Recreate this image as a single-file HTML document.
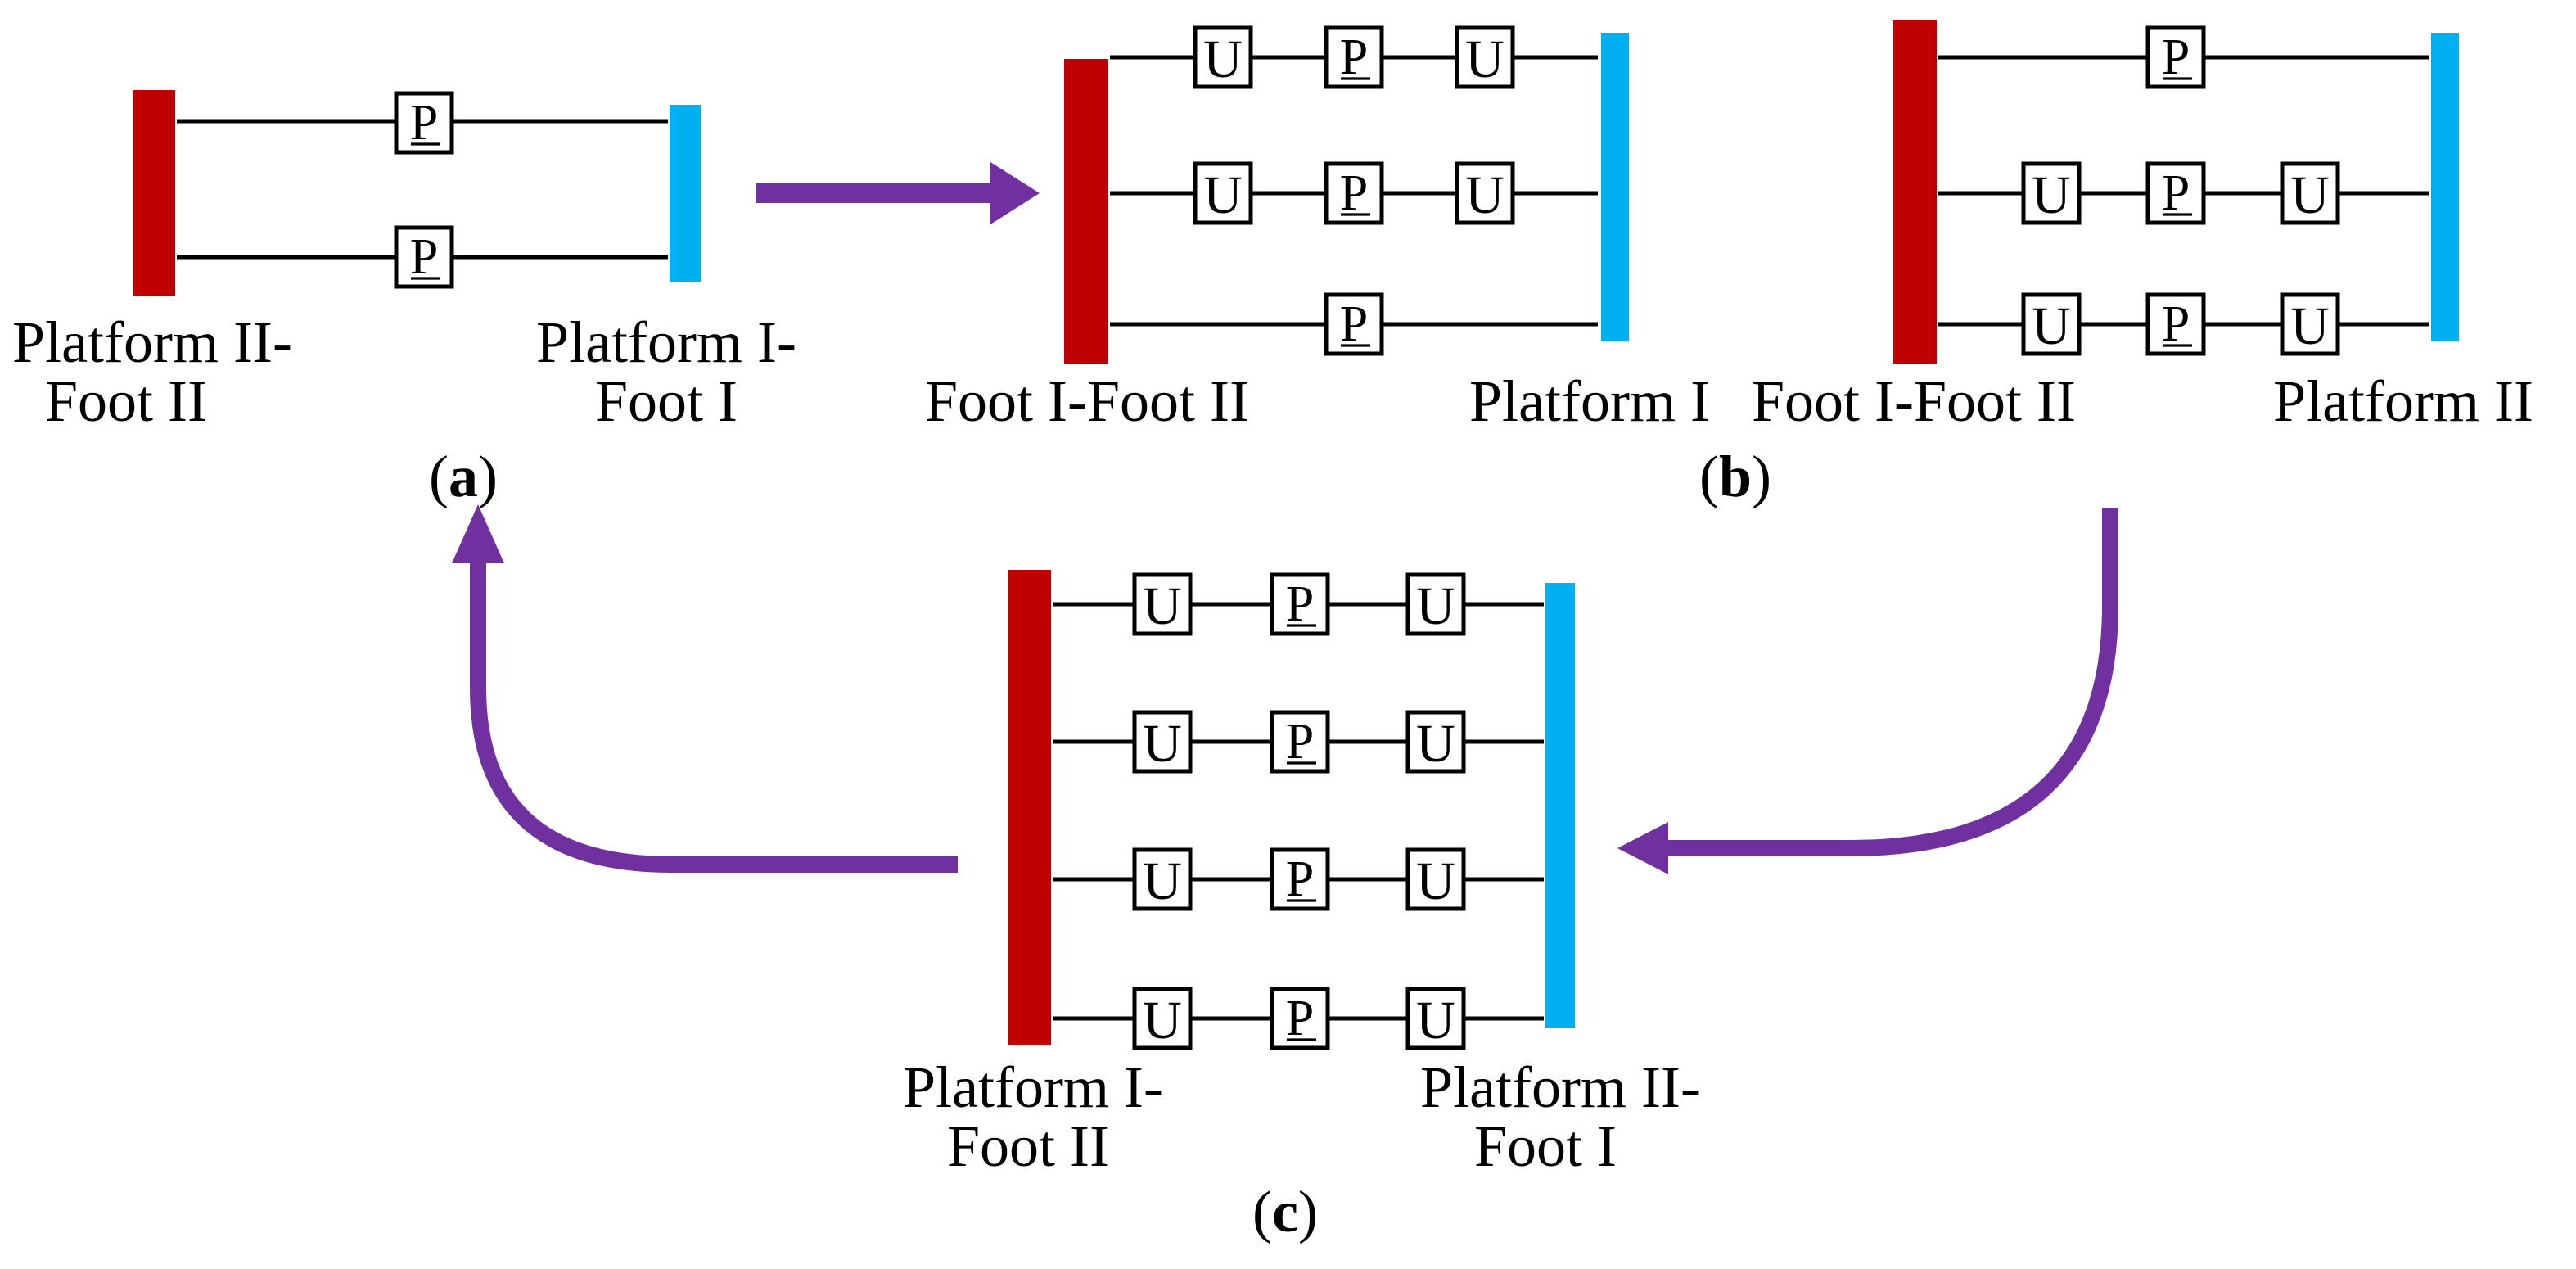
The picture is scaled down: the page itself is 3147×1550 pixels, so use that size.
<!DOCTYPE html>
<html><head><meta charset="utf-8"><style>html,body{margin:0;padding:0;background:#fff}svg{display:block}</style></head>
<body>
<svg xmlns="http://www.w3.org/2000/svg" width="3147" height="1550" viewBox="0 0 1573.5 775" font-family="Liberation Serif, serif">
<defs>
<g id="U"><rect x="-17" y="-18" width="34" height="36" fill="#fff" stroke="#000" stroke-width="2.5"/><text x="0" y="12" font-size="33" text-anchor="middle">U</text></g>
<g id="P"><rect x="-17" y="-18" width="34" height="36" fill="#fff" stroke="#000" stroke-width="2.5"/><text x="0" y="10" font-size="31" text-anchor="middle">P</text><line x1="-8" y1="13" x2="10" y2="13" stroke="#000" stroke-width="1.6"/></g>
</defs>
<g stroke="#000" stroke-width="2.5">
<line x1="108" y1="74" x2="408" y2="74"/><line x1="108" y1="157" x2="408" y2="157"/>
<line x1="678" y1="35" x2="976" y2="35"/><line x1="678" y1="118" x2="976" y2="118"/><line x1="678" y1="198" x2="976" y2="198"/>
<line x1="1184" y1="35" x2="1484" y2="35"/><line x1="1184" y1="118" x2="1484" y2="118"/><line x1="1184" y1="198" x2="1484" y2="198"/>
<line x1="643" y1="369" x2="943" y2="369"/><line x1="643" y1="453" x2="943" y2="453"/><line x1="643" y1="537" x2="943" y2="537"/><line x1="643" y1="622" x2="943" y2="622"/>
</g>
<rect x="81" y="55" width="26" height="126" fill="#C00000"/>
<rect x="409" y="64" width="19" height="108" fill="#00B0F0"/>
<rect x="650" y="36" width="27" height="186" fill="#C00000"/>
<rect x="978" y="20" width="17" height="188" fill="#00B0F0"/>
<rect x="1156" y="12" width="27" height="210" fill="#C00000"/>
<rect x="1485" y="20" width="17" height="188" fill="#00B0F0"/>
<rect x="616" y="348" width="26" height="290" fill="#C00000"/>
<rect x="944" y="356" width="18" height="272" fill="#00B0F0"/>
<use href="#P" x="259" y="75"/><use href="#P" x="259" y="157"/>
<use href="#U" x="747" y="35"/><use href="#P" x="827" y="35"/><use href="#U" x="907" y="35"/>
<use href="#U" x="747" y="118"/><use href="#P" x="827" y="118"/><use href="#U" x="907" y="118"/>
<use href="#P" x="827" y="198"/>
<use href="#P" x="1329" y="35"/>
<use href="#U" x="1253" y="118"/><use href="#P" x="1329" y="118"/><use href="#U" x="1411" y="118"/>
<use href="#U" x="1253" y="198"/><use href="#P" x="1329" y="198"/><use href="#U" x="1411" y="198"/>
<use href="#U" x="710" y="369"/><use href="#P" x="794" y="369"/><use href="#U" x="877" y="369"/>
<use href="#U" x="710" y="453"/><use href="#P" x="794" y="453"/><use href="#U" x="877" y="453"/>
<use href="#U" x="710" y="537"/><use href="#P" x="794" y="537"/><use href="#U" x="877" y="537"/>
<use href="#U" x="710" y="622"/><use href="#P" x="794" y="622"/><use href="#U" x="877" y="622"/>
<g fill="#7030A0">
<rect x="462" y="112" width="146" height="12"/>
<polygon points="605,99 635,118 605,137"/>
<polygon points="988,518 1019,502 1019,534"/>
<polygon points="292,308 276,344 308,344"/>
</g>
<g fill="none" stroke="#7030A0" stroke-width="10">
<path d="M1289,310 L1289,370 Q1289,518 1130,518 L1015,518"/>
<path d="M585,528 L410,528 Q292,528 292,420 L292,340"/>
</g>
<g font-size="36" fill="#000" text-anchor="middle">
<text x="93" y="221">Platform II-</text><text x="77" y="257">Foot II</text>
<text x="407" y="221">Platform I-</text><text x="407" y="257">Foot I</text>
<text x="283" y="303">(<tspan font-weight="bold">a</tspan>)</text>
<text x="664" y="257">Foot I-Foot II</text><text x="971" y="257">Platform I</text>
<text x="1169" y="257">Foot I-Foot II</text><text x="1468" y="257">Platform II</text>
<text x="1060" y="303">(<tspan font-weight="bold">b</tspan>)</text>
<text x="631" y="676">Platform I-</text><text x="628" y="712">Foot II</text>
<text x="953" y="676">Platform II-</text><text x="944" y="712">Foot I</text>
<text x="785" y="752">(<tspan font-weight="bold">c</tspan>)</text>
</g>
</svg>
</body></html>
